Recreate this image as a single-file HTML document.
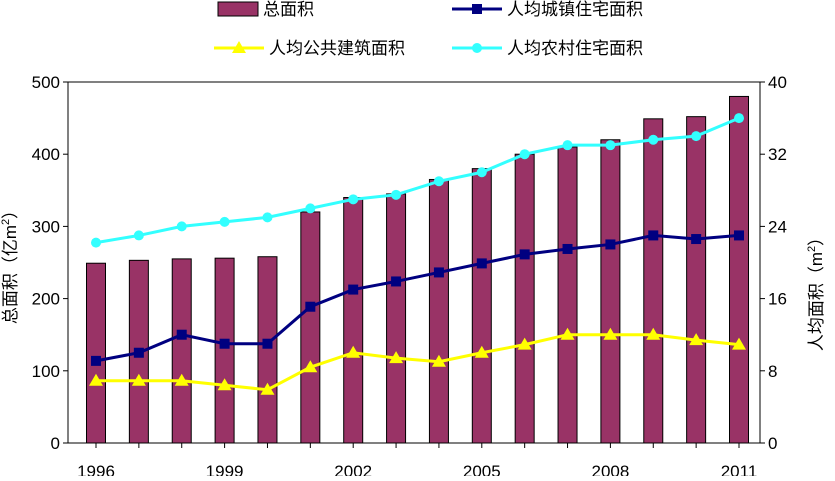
<!DOCTYPE html>
<html><head><meta charset="utf-8"><style>
body{margin:0;background:#fff;overflow:hidden;}
svg text{font-family:"Liberation Sans","Noto Sans CJK SC",sans-serif;fill:#000;}
</style></head><body>
<svg id="c" width="835" height="476"></svg>
<script>
const years=[1996,1997,1998,1999,2000,2001,2002,2003,2004,2005,2006,2007,2008,2009,2010,2011];
const totalArea=[249,253,255,256,258,320,340,345,365,380,400,410,420,449,452,480];
const urbanPerCapita=[9.1,10.0,12.0,11.0,11.0,15.1,17.0,17.9,18.9,19.9,20.9,21.5,22.0,23.0,22.6,23.0];
const publicPerCapita=[6.9,6.9,6.9,6.4,5.9,8.4,10.0,9.4,9.0,10.0,10.9,12.0,12.0,12.0,11.4,10.9];
const ruralPerCapita=[22.2,23.0,24.0,24.5,25.0,26.0,27.0,27.5,29.0,30.0,32.0,33.0,33.0,33.6,34.0,36.0];
const leftTicks=[0,100,200,300,400,500];
const rightTicks=[0,8,16,24,32,40];
const xLabels=[1996,1999,2002,2005,2008,2011];

const NS="http://www.w3.org/2000/svg";
const svg=document.getElementById('c');
const L=68,R=760,T=82,B=443;
const xs=i=>96+(739-96)*i/(years.length-1);
const yl=v=>B-(B-T)*v/500;
const yr=v=>B-(B-T)*v/40;
function mk(tag,attrs,parent){const e=document.createElementNS(NS,tag);for(const k in attrs)e.setAttribute(k,attrs[k]);(parent||svg).appendChild(e);return e;}

let f=mk('rect',{x:L,y:T,width:R-L,height:B-T,fill:'none',stroke:'#000','stroke-width':1});



leftTicks.forEach(v=>{
  const t=mk('text',{x:L-8,y:yl(v)+6,'text-anchor':'end','font-size':17});
  t.textContent=v;
  
  
  mk('line',{x1:L-5,x2:L,y1:yl(v),y2:yl(v),stroke:'#000'});
});
rightTicks.forEach(v=>{
  const t=mk('text',{x:R+8,y:yr(v)+6,'font-size':17});
  t.textContent=v;
  
  
  mk('line',{x1:R,x2:R+5,y1:yr(v),y2:yr(v),stroke:'#000'});
});
xLabels.forEach(y=>{
  const i=years.indexOf(y);
  const t=mk('text',{x:xs(i),y:477,'text-anchor':'middle','font-size':17});
  t.textContent=y;
  
  
});
years.forEach((y,i)=>{mk('line',{x1:xs(i),x2:xs(i),y1:B,y2:B+5,stroke:'#000'});});

let yt=mk('text',{x:0,y:0,'font-size':17,'text-anchor':'middle',transform:'translate(16,263) rotate(-90)'});
yt.innerHTML='总面积（亿m<tspan font-size="11" dy="-7">2</tspan><tspan dy="7">）</tspan>';


let yt2=mk('text',{x:0,y:0,'font-size':17,'text-anchor':'middle',transform:'translate(822,290) rotate(-90)'});
yt2.innerHTML='人均面积（m<tspan font-size="11" dy="-7">2</tspan><tspan dy="7">）</tspan>';



totalArea.forEach((v,i)=>{
  const b=mk('rect',{x:xs(i)-9.5,y:yl(v),width:19,height:B-yl(v),fill:'#993366',stroke:'#000','stroke-width':1});
  
  
});

function series(vals,color,marker,name){
  const pts=vals.map((v,i)=>xs(i)+','+yr(v)).join(' ');
  const pl=mk('polyline',{points:pts,fill:'none',stroke:color,'stroke-width':3});
  
  
  vals.forEach((v,i)=>{drawMarker(xs(i),yr(v),color,marker,name);});
}
function drawMarker(x,y,color,marker,name){
  let m;
  if(marker==='square')m=mk('rect',{x:x-5,y:y-5,width:10,height:10,fill:color});
  else if(marker==='tri')m=mk('polygon',{points:`${x},${y-7} ${x-7},${y+5} ${x+7},${y+5}`,fill:color});
  else m=mk('circle',{cx:x,cy:y,r:5,fill:color});
  
  
}
series(ruralPerCapita,'#33FFFF','circle','rural-per-capita');
series(urbanPerCapita,'#000080','square','urban-per-capita');
series(publicPerCapita,'#FFFF00','tri','public-per-capita');

function legend(x,y,label,color,type,name){
  const g=mk('g',{});
  
  
  if(type==='bar')mk('rect',{x:x,y:y-7,width:40,height:14,fill:'#993366',stroke:'#000'},g);
  else{
    mk('line',{x1:x,x2:x+50,y1:y,y2:y,stroke:color,'stroke-width':3},g);
    const c=x+25;
    if(type==='square')mk('rect',{x:c-5,y:y-5,width:10,height:10,fill:color},g);
    else if(type==='tri')mk('polygon',{points:`${c},${y-7} ${c-7},${y+5} ${c+7},${y+5}`,fill:color},g);
    else mk('circle',{cx:c,cy:y,r:5,fill:color},g);
  }
  const t=mk('text',{x:x+(type==='bar'?45:55),y:y+6,'font-size':17},g);
  t.textContent=label;
}
legend(218,9,'总面积','#993366','bar','total-area');
legend(452,9,'人均城镇住宅面积','#000080','square','urban');
legend(214,48,'人均公共建筑面积','#FFFF00','tri','public');
legend(452,48,'人均农村住宅面积','#33FFFF','circle','rural');
</script>
</body></html>
